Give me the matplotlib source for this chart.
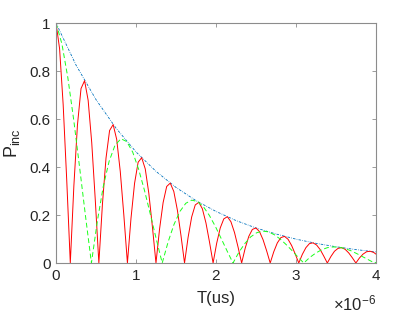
import matplotlib
matplotlib.use("Agg")
import matplotlib.pyplot as plt
from matplotlib.ticker import ScalarFormatter

plt.rcParams['font.family'] = ['Liberation Sans', 'DejaVu Sans']
plt.rcParams['mathtext.fontset'] = 'custom'
plt.rcParams['mathtext.rm'] = 'Liberation Sans'
plt.rcParams['mathtext.it'] = 'Liberation Sans'

# time axis in microseconds
t_env = [0.0, 0.25, 0.5, 0.75, 1.0, 1.25, 1.5, 1.75, 2.0, 2.25, 2.5, 2.75,
         3.0, 3.25, 3.5, 3.75, 4.0]
p_env = [1.0, 0.825, 0.681, 0.562, 0.463, 0.382, 0.315, 0.260, 0.215,
         0.177, 0.146, 0.121, 0.0995, 0.082, 0.0677, 0.0559, 0.0461]

t_red = [0.0, 0.0446, 0.0893, 0.1339, 0.1785, 0.2231, 0.2678, 0.3124,
         0.357, 0.4016, 0.4463, 0.4909, 0.5355, 0.5801, 0.6248, 0.6694,
         0.714, 0.7586, 0.8033, 0.8479, 0.8925, 0.9371, 0.9818, 1.0264,
         1.071, 1.1156, 1.1603, 1.2049, 1.2495, 1.2941, 1.3388, 1.3834,
         1.428, 1.4726, 1.5173, 1.5619, 1.6065, 1.6511, 1.6958, 1.7404,
         1.785, 1.8296, 1.8743, 1.9189, 1.9635, 2.0081, 2.0528, 2.0974,
         2.142, 2.1866, 2.2313, 2.2759, 2.3205, 2.3651, 2.4098, 2.4544,
         2.499, 2.5436, 2.5883, 2.6329, 2.6775, 2.7221, 2.7668, 2.8114,
         2.856, 2.9006, 2.9453, 2.9899, 3.0345, 3.0791, 3.1238, 3.1684,
         3.213, 3.2576, 3.3023, 3.3469, 3.3915, 3.4361, 3.4808, 3.5254,
         3.57, 3.6146, 3.6593, 3.7039, 3.7485, 3.7931, 3.8378, 3.8824,
         3.927, 3.9716, 4.0]
p_red = [1.000, 0.893, 0.660, 0.345, 0.0, 0.322, 0.575, 0.727,
         0.760, 0.678, 0.502, 0.262, 0.0, 0.245, 0.437, 0.552,
         0.577, 0.515, 0.381, 0.199, 0.0, 0.186, 0.332, 0.420,
         0.439, 0.392, 0.290, 0.151, 0.0, 0.141, 0.252, 0.319,
         0.333, 0.298, 0.220, 0.115, 0.0, 0.107, 0.192, 0.242,
         0.253, 0.226, 0.167, 0.087, 0.0, 0.082, 0.146, 0.184,
         0.193, 0.172, 0.127, 0.066, 0.0, 0.062, 0.111, 0.140,
         0.146, 0.131, 0.097, 0.051, 0.0, 0.047, 0.084, 0.106,
         0.111, 0.099, 0.073, 0.038, 0.0, 0.036, 0.064, 0.081,
         0.084, 0.075, 0.056, 0.029, 0.0, 0.027, 0.049, 0.061,
         0.064, 0.057, 0.042, 0.022, 0.0, 0.021, 0.037, 0.047,
         0.049, 0.044, 0.037]

t_green = [0.0, 0.0738, 0.1475, 0.2213, 0.295, 0.3688, 0.4425, 0.5163,
           0.59, 0.6638, 0.7375, 0.8113, 0.885, 0.9588, 1.0325, 1.1063,
           1.18, 1.2538, 1.3275, 1.4013, 1.475, 1.5488, 1.6225, 1.6963,
           1.77, 1.8438, 1.9175, 1.9913, 2.065, 2.1388, 2.2125, 2.2863,
           2.36, 2.4338, 2.5075, 2.5813, 2.655, 2.7288, 2.8025, 2.8763,
           2.95, 3.0238, 3.0975, 3.1713, 3.245, 3.3188, 3.3925, 3.4663,
           3.54, 3.6138, 3.6875, 3.7613, 3.835, 3.9088, 3.9825, 4.0]
p_green = [1.000, 0.913, 0.773, 0.596, 0.398, 0.195, 0.0, 0.174,
           0.318, 0.424, 0.491, 0.518,
           0.506, 0.462, 0.391, 0.302, 0.202, 0.099, 0.0, 0.088,
           0.161, 0.215, 0.249, 0.262,
           0.256, 0.234, 0.198, 0.153, 0.102, 0.050, 0.0, 0.045,
           0.081, 0.109, 0.126, 0.133,
           0.130, 0.118, 0.100, 0.077, 0.052, 0.025, 0.0, 0.023,
           0.041, 0.055, 0.064, 0.067,
           0.066, 0.060, 0.051, 0.039, 0.026, 0.013, 0.0, 0.003]

x_ticks = [0, 1, 2, 3, 4]
y_ticks = [0, 0.2, 0.4, 0.6, 0.8, 1]
y_labels = ['0', '0.2', '0.4', '0.6', '0.8', '1']

us = 1e-6

fig = plt.figure(figsize=(4.15, 3.12), dpi=100)
ax = fig.add_axes([0.135, 0.157, 0.771, 0.769])

ax.plot([t * us for t in t_env], p_env, color=(0, 0.447, 0.741),
        linestyle=(0, (3, 1.5, 0.8, 1.5)), lw=0.6)
ax.plot([t * us for t in t_red], p_red, color='red', lw=0.7)
ax.plot([t * us for t in t_green], p_green, color=(0.1, 1, 0.1),
        linestyle=(0, (5, 3)), lw=0.7)

ax.set_xlim(0, 4 * us)
ax.set_ylim(0, 1)
ax.set_xticks([x * us for x in x_ticks])
ax.set_yticks(y_ticks)
ax.set_yticklabels(y_labels)

fmt = ScalarFormatter(useMathText=True)
fmt.set_powerlimits((0, 0))
ax.xaxis.set_major_formatter(fmt)
ax.xaxis.get_offset_text().set_visible(False)
ax.text(1.0, -0.125, r'$\times\mathregular{10^{-6}}$', transform=ax.transAxes,
        ha='right', va='top', fontsize=12, color='0.15')

for s in ax.spines.values():
    s.set_color('0.55')
    s.set_linewidth(0.8)
ax.tick_params(direction='in', length=3, width=0.6, color='0.55',
               top=True, right=True, labelsize=11, labelcolor='0.15', pad=4)

ax.set_xlabel('T(us)', fontsize=12, color='0.15', labelpad=6)
ax.set_ylabel(r'$\mathregular{P_{inc}}$', fontsize=13, color='0.15',
              labelpad=5)

fig.savefig('out.png', dpi=100)
